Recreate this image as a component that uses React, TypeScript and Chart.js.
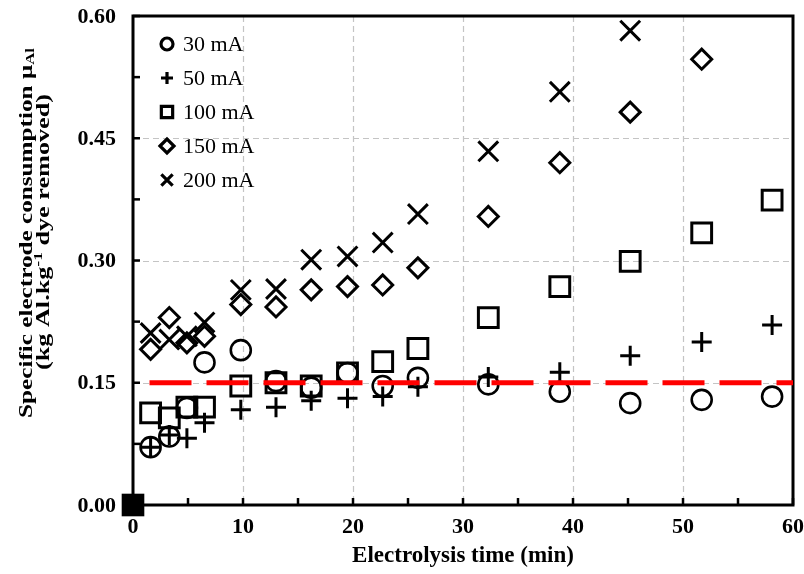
import React, { useEffect, useRef } from 'react';
import { Chart, registerables } from 'chart.js';

Chart.register(...registerables);

// ---------- data ----------
const times = [1.6, 3.3, 4.9, 6.5, 9.8, 13.0, 16.2, 19.5, 22.7, 25.9, 32.3, 38.8, 45.2, 51.7, 58.1];
const seriesLabels = ['30 mA', '50 mA', '100 mA', '150 mA', '200 mA'];
const values30 = [0.071, 0.084, 0.119, 0.175, 0.190, 0.152, 0.144, 0.162, 0.146, 0.156, 0.148, 0.139, 0.125, 0.129, 0.133];
const values50 = [0.071, 0.086, 0.082, 0.101, 0.117, 0.120, 0.128, 0.131, 0.133, 0.145, 0.157, 0.163, 0.183, 0.200, 0.221];
const values100 = [0.113, 0.107, 0.120, 0.120, 0.146, 0.150, 0.146, 0.162, 0.176, 0.192, 0.230, 0.268, 0.299, 0.334, 0.374];
const values150 = [0.191, 0.230, 0.199, 0.207, 0.246, 0.243, 0.264, 0.268, 0.270, 0.291, 0.354, 0.420, 0.482, 0.547];
const values200 = [0.211, 0.203, 0.207, 0.224, 0.264, 0.265, 0.301, 0.305, 0.322, 0.357, 0.434, 0.507, 0.582];
const originX = [0];
const originY = [0];
const limitX = [1.5, 60];
const limitY = [0.15, 0.15];
const xMin = 0, xMax = 60, xStep = 5, xLabelStep = 10;
const yMin = 0, yMax = 0.6, yStep = 0.075, yLabelStep = 0.15;
const xTitle = 'Electrolysis time (min)';
const yTitle1 = ['Specific electrode consumption ', 'μ', 'Al'];
const yTitle2 = ['(kg Al.kg', '-1', ' dye removed)'];

const SERIF = "'Liberation Serif', 'Times New Roman', serif";

const pts = (xs: number[], ys: number[]) => ys.map((y, i) => ({ x: xs[i], y }));
const isMult = (v: number, step: number) => Math.abs(v / step - Math.round(v / step)) < 1e-6;

const styles = [
  { pointStyle: 'circle', radius: 10, bw: 2.6, lr: 6 },
  { pointStyle: 'cross', radius: 10, bw: 3, lr: 6 },
  { pointStyle: 'rect', radius: 14, bw: 3, lr: 8 },
  { pointStyle: 'rectRot', radius: 10, bw: 3, lr: 7 },
  { pointStyle: 'crossRot', radius: 14, bw: 3, lr: 8 },
];

function drawMarker(ctx: CanvasRenderingContext2D, style: string, x: number, y: number, r: number) {
  ctx.beginPath();
  if (style === 'circle') {
    ctx.arc(x, y, r, 0, Math.PI * 2);
  } else if (style === 'cross') {
    ctx.moveTo(x - r, y); ctx.lineTo(x + r, y);
    ctx.moveTo(x, y - r); ctx.lineTo(x, y + r);
  } else if (style === 'rect') {
    const s = r * Math.SQRT1_2;
    ctx.rect(x - s, y - s, 2 * s, 2 * s);
  } else if (style === 'rectRot') {
    ctx.moveTo(x - r, y); ctx.lineTo(x, y - r); ctx.lineTo(x + r, y); ctx.lineTo(x, y + r); ctx.closePath();
  } else if (style === 'crossRot') {
    const s = r * Math.SQRT1_2;
    ctx.moveTo(x - s, y - s); ctx.lineTo(x + s, y + s);
    ctx.moveTo(x + s, y - s); ctx.lineTo(x - s, y + s);
  }
  ctx.stroke();
}

function drawRich(ctx: CanvasRenderingContext2D, segs: { text: string; font: string; dy: number }[], cx: number, cy: number, target: number) {
  const widths = segs.map(s => { ctx.font = s.font; return ctx.measureText(s.text).width; });
  const total = widths.reduce((a, b) => a + b, 0);
  ctx.save();
  ctx.translate(cx, cy);
  ctx.rotate(-Math.PI / 2);
  ctx.scale(target / total, 1);
  ctx.textBaseline = 'middle';
  ctx.textAlign = 'left';
  ctx.fillStyle = '#000';
  let x = -total / 2;
  segs.forEach((s, i) => { ctx.font = s.font; ctx.fillText(s.text, x, s.dy); x += widths[i]; });
  ctx.restore();
}

const decoPlugin = {
  id: 'deco',
  beforeDatasetsDraw(chart: any) {
    const { ctx, chartArea: a, scales } = chart;
    const xs = scales.x, ys = scales.y;
    ctx.save();
    // dashed grid
    ctx.strokeStyle = '#c4c4c4';
    ctx.lineWidth = 1.2;
    ctx.setLineDash([6, 4]);
    xs.ticks.forEach((t: any) => {
      if (isMult(t.value, xLabelStep) && t.value > xMin && t.value < xMax) {
        const px = Math.round(xs.getPixelForValue(t.value)) + 0.5;
        ctx.beginPath(); ctx.moveTo(px, a.top); ctx.lineTo(px, a.bottom); ctx.stroke();
      }
    });
    ys.ticks.forEach((t: any) => {
      if (isMult(t.value, yLabelStep) && t.value > yMin && t.value < yMax - 1e-9) {
        const py = Math.round(ys.getPixelForValue(t.value)) + 0.5;
        ctx.beginPath(); ctx.moveTo(a.left, py); ctx.lineTo(a.right, py); ctx.stroke();
      }
    });
    ctx.setLineDash([]);
    // frame
    ctx.strokeStyle = '#000';
    ctx.lineWidth = 3;
    ctx.strokeRect(a.left, a.top, a.right - a.left, a.bottom - a.top);
    // inward tick marks
    ctx.lineWidth = 2.5;
    xs.ticks.forEach((t: any) => {
      const px = xs.getPixelForValue(t.value);
      ctx.beginPath(); ctx.moveTo(px, a.bottom); ctx.lineTo(px, a.bottom - 7); ctx.stroke();
    });
    ys.ticks.forEach((t: any) => {
      const py = ys.getPixelForValue(t.value);
      ctx.beginPath(); ctx.moveTo(a.left, py); ctx.lineTo(a.left + 7, py); ctx.stroke();
    });
    // tick labels
    ctx.fillStyle = '#000';
    ctx.font = `bold 22px ${SERIF}`;
    ctx.textBaseline = 'middle';
    ctx.textAlign = 'center';
    xs.ticks.forEach((t: any) => {
      if (isMult(t.value, xLabelStep)) {
        ctx.fillText(String(Math.round(t.value)), xs.getPixelForValue(t.value), a.bottom + 22);
      }
    });
    ctx.textAlign = 'right';
    ys.ticks.forEach((t: any) => {
      if (isMult(t.value, yLabelStep)) {
        ctx.fillText(Number(t.value).toFixed(2), a.left - 17, ys.getPixelForValue(t.value) + 1);
      }
    });
    ctx.restore();
  },
  afterDraw(chart: any) {
    const { ctx, chartArea: a } = chart;
    ctx.save();
    // legend
    ctx.strokeStyle = '#000';
    ctx.fillStyle = '#000';
    ctx.font = `22px ${SERIF}`;
    ctx.textBaseline = 'middle';
    ctx.textAlign = 'left';
    seriesLabels.forEach((lab, i) => {
      const ly = a.top + 28 + i * 34;
      const lx = a.left + 34;
      ctx.lineWidth = 3.2;
      drawMarker(ctx, styles[i].pointStyle, lx, ly, styles[i].lr);
      ctx.fillText(lab, lx + 16, ly + 1);
    });
    ctx.restore();
    // y title
    const big = `bold 18px ${SERIF}`;
    const small = `bold 12px ${SERIF}`;
    drawRich(ctx, [
      { text: yTitle1[0], font: big, dy: 0 },
      { text: yTitle1[1], font: big, dy: 0 },
      { text: yTitle1[2], font: small, dy: 4 },
    ], 27, 233, 370);
    drawRich(ctx, [
      { text: yTitle2[0], font: big, dy: 0 },
      { text: yTitle2[1], font: small, dy: -5 },
      { text: yTitle2[2], font: big, dy: 0 },
    ], 44, 232, 276);
  },
};

export default function App() {
  const ref = useRef<HTMLCanvasElement | null>(null);
  useEffect(() => {
    if (!ref.current) return;
    const seriesValues = [values30, values50, values100, values150, values200];
    const datasets: any[] = [
      {
        label: 'limit',
        data: pts(limitX, limitY),
        showLine: true,
        borderColor: '#ff0000',
        borderWidth: 5,
        borderDash: [42, 15],
        pointRadius: 0,
        fill: false,
        clip: 6,
      },
      ...seriesValues.map((vals, i) => ({
        label: seriesLabels[i],
        data: pts(times, vals),
        pointStyle: styles[i].pointStyle,
        pointRadius: styles[i].radius,
        pointBorderWidth: styles[i].bw,
        pointBorderColor: '#000',
        pointBackgroundColor: 'rgba(0,0,0,0)',
        borderColor: '#000',
        backgroundColor: 'rgba(0,0,0,0)',
        showLine: false,
        clip: false,
      })),
      {
        label: 'origin',
        data: pts(originX, originY),
        pointStyle: 'rect',
        pointRadius: 16,
        pointBorderWidth: 0,
        pointBackgroundColor: '#000',
        pointBorderColor: '#000',
        showLine: false,
        clip: false,
      },
    ];
    const chart = new Chart(ref.current, {
      type: 'scatter',
      data: { datasets },
      options: {
        animation: false,
        responsive: false,
        events: [],
        layout: { autoPadding: false, padding: { left: 0, right: 11, top: 16, bottom: 0 } },
        plugins: { legend: { display: false }, tooltip: { enabled: false } },
        scales: {
          x: {
            type: 'linear',
            min: xMin,
            max: xMax,
            grid: { display: false },
            border: { display: false },
            ticks: { stepSize: xStep, autoSkip: false, display: false },
            title: {
              display: true,
              text: xTitle,
              color: '#000',
              font: { family: SERIF, size: 23, weight: 'bold' },
              padding: { top: 0, bottom: 4 },
            },
            afterFit: (s: any) => { s.height = 69; s.paddingLeft = 0; s.paddingRight = 0; },
          },
          y: {
            type: 'linear',
            min: yMin,
            max: yMax,
            grid: { display: false },
            border: { display: false },
            ticks: { stepSize: yStep, autoSkip: false, display: false },
            afterFit: (s: any) => { s.width = 133; s.paddingTop = 0; s.paddingBottom = 0; },
          },
        },
      },
      plugins: [decoPlugin],
    });
    return () => chart.destroy();
  }, []);
  return (
    <div style={{ position: 'absolute', left: 0, top: 0, width: 804, height: 574, background: '#fff' }}>
      <canvas ref={ref} width={804} height={574} style={{ display: 'block' }} />
    </div>
  );
}
